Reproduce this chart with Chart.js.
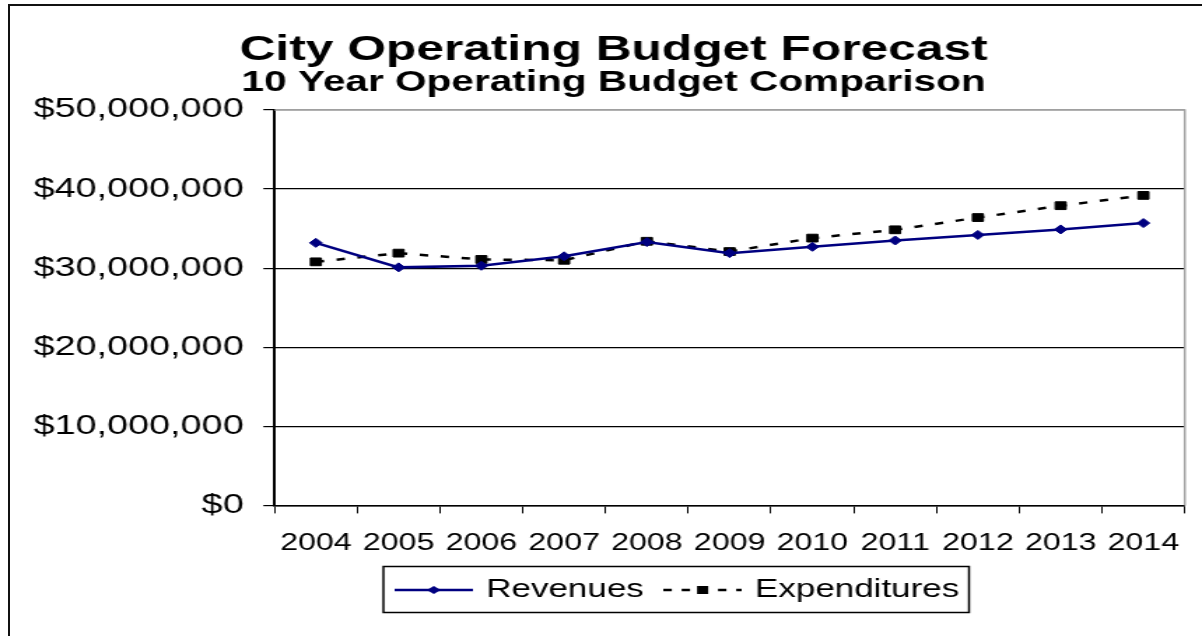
<!DOCTYPE html>
<html>
<head>
<meta charset="utf-8">
<title>City Operating Budget Forecast</title>
<script src="https://cdn.jsdelivr.net/npm/chart.js@4.4.1/dist/chart.umd.min.js"></script>
<style>
  html, body { margin: 0; padding: 0; background: #fff; overflow: hidden; }
  #frame {
    position: absolute; left: 8px; top: 4px; width: 1194px; height: 632px;
    border-left: 2px solid #111; border-top: 2px solid #111; box-sizing: border-box;
  }
  /* the original is an Excel picture stretched sideways, so the chart is drawn narrow and widened */
  #wrap {
    position: absolute; left: 0; top: 0; width: 859px; height: 636px;
    transform: scaleX(1.3993); transform-origin: 0 0;
  }
</style>
</head>
<body>
<div id="frame"></div>
<div id="wrap"><canvas id="budgetChart"></canvas></div>
<script>
const years = ['2004', '2005', '2006', '2007', '2008', '2009', '2010', '2011', '2012', '2013', '2014'];
const revenues = [33200000, 30100000, 30300000, 31500000, 33300000, 31900000, 32700000, 33500000, 34200000, 34900000, 35700000];
const expenditures = [30800000, 31900000, 31100000, 31000000, 33400000, 32100000, 33800000, 34850000, 36400000, 37900000, 39200000];
const yMin = 0;
const yMax = 50000000;
const yStep = 10000000;

const FONT = "'Liberation Sans', Arial, sans-serif";
const NAVY = '#000080';

// small legend samples: line with the marker in the middle
const makeIcon = (color, dash, marker) => {
    const c = document.createElement('canvas');
    c.width = 56;
    c.height = 12;
    const g = c.getContext('2d');
    g.strokeStyle = color;
    g.fillStyle = color;
    g.lineWidth = 2.5;
    g.setLineDash(dash);
    g.beginPath();
    g.moveTo(0, 6);
    g.lineTo(56, 6);
    g.stroke();
    g.setLineDash([]);
    g.beginPath();
    if (marker === 'diamond') {
        g.moveTo(23, 6); g.lineTo(28, 2); g.lineTo(33, 6); g.lineTo(28, 10);
    } else {
        g.rect(24, 2, 8, 8);
    }
    g.closePath();
    g.fill();
    return c;
};
const legendIcons = [makeIcon(NAVY, [], 'diamond'), makeIcon('#000', [6, 7], 'square')];

const plotBorder = {
    id: 'plotBorder',
    beforeDatasetsDraw(chart) {
        const { ctx, chartArea: a } = chart;
        ctx.save();
        ctx.strokeStyle = '#a0a0a0';
        ctx.lineWidth = 1.5;
        ctx.beginPath();
        ctx.moveTo(a.left, a.top);
        ctx.lineTo(a.right, a.top);
        ctx.lineTo(a.right, a.bottom);
        ctx.stroke();
        ctx.restore();
    }
};

// nudge the legend and the two title lines to where the original has them
const placeBoxes = {
    id: 'placeBoxes',
    afterLayout(chart) {
        chart.boxes.forEach(b => {
            if (b.position === 'top' && b.options && b.options.text) {
                b.left += 7;
                b.right += 7;
            }
        });
    },
    beforeDraw(chart) {
        const lg = chart.legend;
        lg.left = 268;
        lg.top = 560.5;
        if (lg.adjustHitBoxes) lg.adjustHitBoxes();
    },
    afterDraw(chart) {
        const lg = chart.legend;
        const boxes = lg.legendHitBoxes;
        if (!boxes || !boxes.length) return;
        const first = boxes[0];
        const last = boxes[boxes.length - 1];
        const ctx = chart.ctx;
        ctx.save();
        ctx.strokeStyle = '#000';
        ctx.lineWidth = 1.5;
        ctx.strokeRect(first.left - 11, lg.top + 6, last.left + last.width + 18 - first.left, 46);
        ctx.restore();
    }
};

const ctx = document.getElementById('budgetChart').getContext('2d');
new Chart(ctx, {
    type: 'line',
    data: {
        labels: years,
        datasets: [{
            label: 'Revenues',
            data: revenues,
            borderColor: NAVY,
            backgroundColor: NAVY,
            borderWidth: 2.5,
            pointStyle: 'rectRot',
            pointRadius: 4.5,
            pointBorderWidth: 1,
            tension: 0
        }, {
            label: 'Expenditures',
            data: expenditures,
            borderColor: '#000',
            backgroundColor: '#000',
            borderWidth: 2.5,
            borderDash: [6, 9],
            pointStyle: 'rect',
            pointRadius: 5.5,
            pointBorderWidth: 1,
            tension: 0
        }]
    },
    options: {
        responsive: true,
        maintainAspectRatio: false,
        animation: false,
        layout: { padding: { left: 10, right: 6, top: 0, bottom: 11 } },
        plugins: {
            title: {
                display: true,
                text: 'City Operating Budget Forecast',
                color: '#000',
                font: { family: FONT, size: 35.5, weight: 'bold', lineHeight: 1.0 },
                padding: { top: 32.5, bottom: 0 }
            },
            subtitle: {
                display: true,
                text: '10 Year Operating Budget Comparison',
                color: '#000',
                font: { family: FONT, size: 29, weight: 'bold', lineHeight: 1.0 },
                padding: { top: 0, bottom: 13 }
            },
            legend: {
                position: 'bottom',
                align: 'start',
                labels: {
                    usePointStyle: true,
                    pointStyleWidth: 50,
                    padding: 17,
                    color: '#000',
                    font: { family: FONT, size: 25 },
                    generateLabels: chart => chart.data.datasets.map((ds, i) => ({
                        text: ds.label,
                        pointStyle: legendIcons[i],
                        fillStyle: ds.borderColor,
                        strokeStyle: ds.borderColor,
                        lineWidth: 0,
                        hidden: false,
                        datasetIndex: i
                    }))
                }
            },
            tooltip: { enabled: false }
        },
        scales: {
            x: {
                offset: true,
                grid: { display: true, drawOnChartArea: false, color: '#000', tickLength: 8, offset: true },
                border: { color: '#000', width: 1.5 },
                ticks: { color: '#000', padding: 16, maxRotation: 0, font: { family: FONT, size: 23 } }
            },
            y: {
                min: yMin,
                max: yMax,
                grid: {
                    color: c => (c.tick && c.tick.value === yMax ? '#a0a0a0' : '#000'),
                    tickColor: '#000',
                    tickLength: 8,
                    lineWidth: 1.2
                },
                border: { color: '#000', width: 2 },
                ticks: {
                    stepSize: yStep,
                    color: '#000',
                    padding: 14,
                    font: { family: FONT, size: 27 },
                    callback: v => '$' + Number(v).toLocaleString('en-US')
                }
            }
        }
    },
    plugins: [plotBorder, placeBoxes]
});
</script>
</body>
</html>
